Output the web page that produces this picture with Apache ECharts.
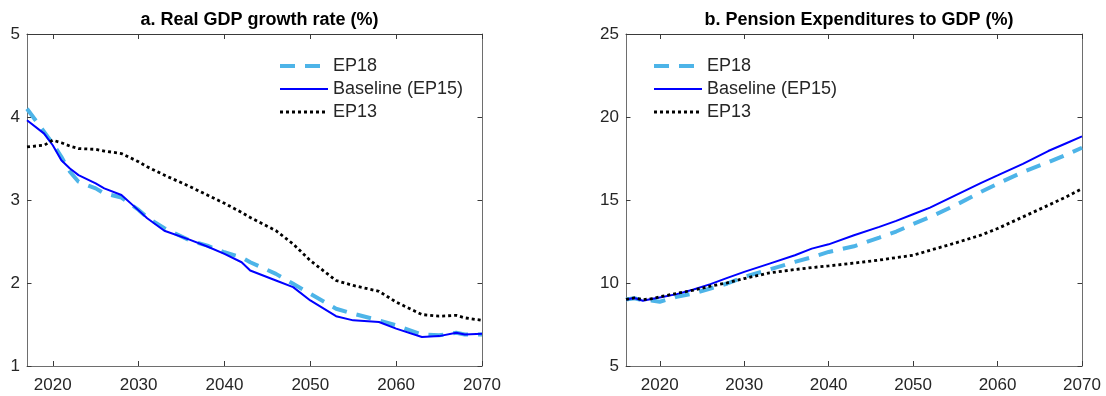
<!DOCTYPE html>
<html>
<head>
<meta charset="utf-8">
<script src="https://cdn.jsdelivr.net/npm/echarts@6/dist/echarts.min.js"></script>
<style>
  html, body { margin: 0; padding: 0; background: #fff; }
  #chart { width: 1106px; height: 396px; }
</style>
</head>
<body>
<div id="chart"></div>
<script>
// Panel a: real GDP growth rate (%)
const gdpYears    = [2017, 2019, 2020, 2021, 2022, 2023, 2025, 2026, 2028, 2030, 2031, 2033, 2036, 2038, 2040, 2042, 2043, 2046, 2048, 2050, 2053, 2055, 2058, 2060, 2063, 2065, 2067, 2068, 2070];
const gdpEP18     = [4.10, 3.82, 3.68, 3.52, 3.34, 3.22, 3.14, 3.08, 3.03, 2.88, 2.79, 2.66, 2.51, 2.45, 2.37, 2.31, 2.25, 2.11, 1.99, 1.87, 1.69, 1.63, 1.55, 1.49, 1.38, 1.37, 1.40, 1.38, 1.38];
const gdpBaseline = [3.96, 3.80, 3.66, 3.48, 3.38, 3.30, 3.20, 3.14, 3.06, 2.875, 2.78, 2.63, 2.52, 2.44, 2.35, 2.25, 2.15, 2.03, 1.95, 1.79, 1.60, 1.55, 1.53, 1.45, 1.35, 1.36, 1.40, 1.38, 1.39];
const gdpEP13     = [3.64, 3.66, 3.72, 3.69, 3.65, 3.62, 3.61, 3.59, 3.56, 3.46, 3.40, 3.30, 3.16, 3.06, 2.96, 2.85, 2.79, 2.63, 2.47, 2.27, 2.03, 1.97, 1.90, 1.77, 1.62, 1.60, 1.61, 1.58, 1.55];

// Panel b: pension expenditures to GDP (%)
const penYears    = [2016, 2017, 2018, 2019, 2020, 2022, 2024, 2026, 2028, 2030, 2033, 2036, 2038, 2040, 2043, 2046, 2048, 2050, 2052, 2055, 2058, 2060, 2063, 2066, 2068, 2070];
const penEP18     = [9.00, 9.08, 8.95, 8.95, 8.87, 9.17, 9.37, 9.67, 9.97, 10.37, 10.81, 11.27, 11.55, 11.87, 12.21, 12.74, 13.10, 13.55, 13.97, 14.68, 15.48, 15.98, 16.68, 17.28, 17.70, 18.15];
const penBaseline = [9.01, 9.10, 8.93, 9.03, 9.13, 9.33, 9.61, 9.93, 10.31, 10.67, 11.17, 11.67, 12.07, 12.33, 12.88, 13.38, 13.74, 14.14, 14.54, 15.28, 16.02, 16.48, 17.18, 17.95, 18.39, 18.83];
const penEP13     = [9.01, 9.10, 9.00, 9.05, 9.17, 9.37, 9.57, 9.81, 10.01, 10.27, 10.61, 10.81, 10.93, 11.03, 11.20, 11.38, 11.53, 11.67, 11.97, 12.41, 12.88, 13.28, 13.98, 14.68, 15.15, 15.68];

const yearTicks = [2020, 2030, 2040, 2050, 2060, 2070];
const seriesNames = ['EP18', 'Baseline (EP15)', 'EP13'];
const panelTitles = ['a. Real GDP growth rate (%)', 'b. Pension Expenditures to GDP (%)'];

const FONT = '"Liberation Sans", Arial, Helvetica, sans-serif';
const TEXT = '#262626';

const pairs = (xs, ys) => xs.map((x, i) => [x, ys[i]]);

const styles = [
  { color: '#4DB4E8', width: 4, type: [15, 10] },
  { color: '#0000FF', width: 2, type: 'solid' },
  { color: '#000000', width: 2.8, type: [3, 3] }
];

const grids = [
  { left: 27, top: 34, width: 455, height: 332 },
  { left: 626, top: 34, width: 456, height: 332 }
];

function xAxes(gridIndex, min, max) {
  const base = {
    gridIndex, type: 'value', min, max,
    splitLine: { show: false },
    axisLine: { show: true, onZero: false, lineStyle: { color: '#6e6e6e', width: 1 } },
    axisTick: { show: true, inside: true, length: 5, customValues: yearTicks, lineStyle: { color: '#3a3a3a' } }
  };
  return [
    Object.assign({}, base, {
      position: 'bottom',
      axisLabel: { show: true, customValues: yearTicks, margin: 11, color: TEXT, fontSize: 17, fontFamily: FONT,
                   formatter: v => String(v) }
    }),
    Object.assign({}, base, {
      position: 'top',
      axisLine: { show: true, onZero: false, lineStyle: { color: '#3a3a3a', width: 1 } },
      axisLabel: { show: false }
    })
  ];
}

function yAxes(gridIndex, min, max, interval) {
  const base = {
    gridIndex, type: 'value', min, max, interval,
    splitLine: { show: false },
    axisLine: { show: true, onZero: false, lineStyle: { color: '#6e6e6e', width: 1 } },
    axisTick: { show: true, inside: true, length: 4.5, lineStyle: { color: '#3a3a3a' } }
  };
  return [
    Object.assign({}, base, {
      position: 'left',
      axisLabel: { show: true, margin: 7, color: TEXT, fontSize: 17, fontFamily: FONT }
    }),
    Object.assign({}, base, { position: 'right', axisLabel: { show: false } })
  ];
}

function panelSeries(axisIndex, xs, sets) {
  return sets.map((vals, k) => ({
    name: seriesNames[k],
    type: 'line',
    xAxisIndex: axisIndex,
    yAxisIndex: axisIndex,
    data: pairs(xs, vals),
    symbol: 'none',
    showSymbol: false,
    smooth: false,
    animation: false,
    lineStyle: styles[k],
    itemStyle: { color: styles[k].color }
  }));
}

function legendAt(left) {
  return {
    orient: 'vertical',
    left, top: 57, padding: 0,
    itemWidth: 48, itemHeight: 14, itemGap: 5,
    selectedMode: false,
    textStyle: { color: TEXT, fontSize: 18, fontFamily: FONT },
    data: seriesNames.map((n, k) => ({
      name: n,
      itemStyle: { opacity: 0 },
      lineStyle: { color: styles[k].color, width: styles[k].width, type: styles[k].type }
    }))
  };
}

const chart = echarts.init(document.getElementById('chart'), null, { renderer: 'canvas' });
chart.setOption({
  backgroundColor: '#ffffff',
  animation: false,
  title: [
    { text: panelTitles[0], left: 254.5, top: 6, textAlign: 'center',
      textStyle: { fontSize: 18, fontWeight: 'bold', color: '#000', fontFamily: FONT } },
    { text: panelTitles[1], left: 854, top: 6, textAlign: 'center',
      textStyle: { fontSize: 18, fontWeight: 'bold', color: '#000', fontFamily: FONT } }
  ],
  legend: [legendAt(278), legendAt(652)],
  grid: grids,
  xAxis: xAxes(0, 2017, 2070).concat(xAxes(1, 2016, 2070)),
  yAxis: yAxes(0, 1, 5, 1).concat(yAxes(1, 5, 25, 5)),
  series: panelSeries(0, gdpYears, [gdpEP18, gdpBaseline, gdpEP13])
    .concat(panelSeries(2, penYears, [penEP18, penBaseline, penEP13]))
});
</script>
</body>
</html>
